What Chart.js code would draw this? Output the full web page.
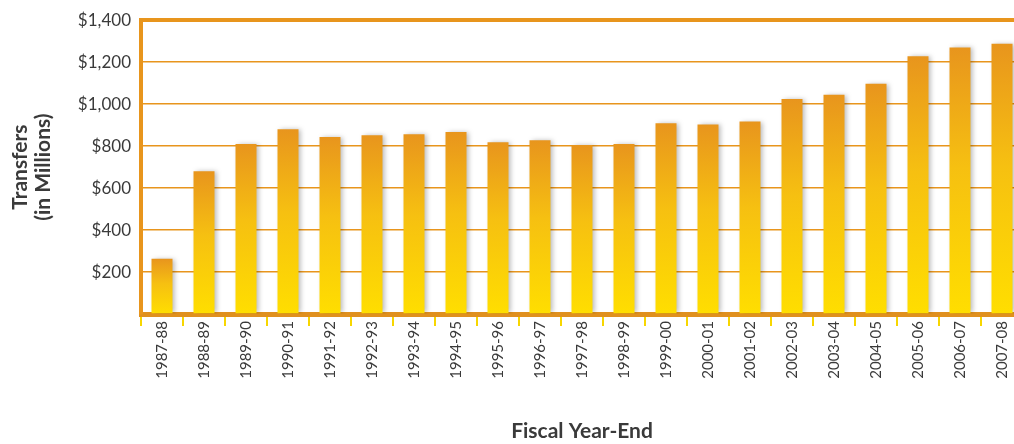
<!DOCTYPE html>
<html>
<head>
<meta charset="utf-8">
<script src="https://cdn.jsdelivr.net/npm/chart.js@4"></script>
<style>
  html, body { margin: 0; padding: 0; background: #fff; overflow: hidden; }
</style>
</head>
<body>
<canvas id="myChart" width="1030" height="444"></canvas>
<script>
const years = ["1987-88", "1988-89", "1989-90", "1990-91", "1991-92", "1992-93", "1993-94",
  "1994-95", "1995-96", "1996-97", "1997-98", "1998-99", "1999-00", "2000-01", "2001-02",
  "2002-03", "2003-04", "2004-05", "2005-06", "2006-07", "2007-08"];
const transfers = [263, 680, 810, 880, 844, 852, 856, 867, 819, 828, 805, 810, 909, 903, 917,
  1025, 1045, 1097, 1228, 1270, 1288];
const yTicks = [200, 400, 600, 800, 1000, 1200, 1400];

const orange = "#E8951D";
const yellow = "#FFDE00";
const textColor = "#3a3a3a";

// each bar fades from orange at its top to yellow at the base
function barGradient(context) {
  const chart = context.chart;
  if (!chart.chartArea) return orange;
  const y = chart.scales.y;
  const top = y.getPixelForValue(context.raw);
  const base = y.getPixelForValue(0);
  const g = chart.ctx.createLinearGradient(0, top, 0, base);
  g.addColorStop(0, orange);
  g.addColorStop(0.45, "#F6C011");
  g.addColorStop(1, yellow);
  return g;
}

const barShadow = {
  id: "barShadow",
  beforeDatasetsDraw(chart) {
    const c = chart.ctx;
    c.save();
    c.shadowColor = "rgba(0,0,0,0.28)";
    c.shadowBlur = 5;
    c.shadowOffsetX = 2;
    c.shadowOffsetY = 0;
  },
  afterDatasetsDraw(chart) {
    chart.ctx.restore();
  }
};

const ctx = document.getElementById("myChart");

new Chart(ctx, {
  type: "bar",
  data: {
    labels: years,
    datasets: [
      {
        label: "Transfers",
        data: transfers,
        backgroundColor: barGradient,
        barPercentage: 0.5,
        categoryPercentage: 1.0,
      },
    ],
  },
  options: {
    responsive: false,
    animation: false,
    devicePixelRatio: 1,
    layout: { padding: { top: 9, right: 7, left: 0, bottom: 0 } },
    plugins: {
      legend: { display: false },
      tooltip: { enabled: false },
    },
    scales: {
      x: {
        z: 1,
        border: { display: true, color: "#E0901E", width: 5 },
        grid: {
          drawOnChartArea: false,
          drawTicks: true,
          tickLength: 12,
          color: "#F7D600",
          lineWidth: 2,
        },
        ticks: {
          color: textColor,
          font: { family: "Lato", size: 15 },
          minRotation: 90,
          maxRotation: 90,
          padding: -5,
          autoSkip: false,
        },
        title: {
          display: true,
          text: "Fiscal Year-End",
          color: textColor,
          font: { family: "Lato", size: 21, weight: "bold" },
          padding: { top: 0, bottom: 0 },
        },
        afterFit(scale) {
          scale.height = 130;
        },
      },
      y: {
        min: 0,
        max: 1400,
        afterBuildTicks(scale) {
          scale.ticks = [0].concat(yTicks).map(v => ({ value: v }));
        },
        border: { display: true, color: orange, width: 4 },
        grid: {
          drawTicks: false,
          color: (c) => (c.tick.value === 0 ? "rgba(0,0,0,0)" : orange),
          lineWidth: (c) => (c.tick.value === 1400 ? 4 : 1.5),
        },
        ticks: {
          color: textColor,
          font: { family: "Lato", size: 17 },
          padding: 10,
          callback: (v) => (v === 0 ? "" : "$" + v.toLocaleString("en-US")),
        },
        title: {
          display: true,
          text: ["Transfers", "(in Millions)"],
          color: textColor,
          font: { family: "Lato", size: 21, weight: "bold", lineHeight: 1.1 },
          padding: { top: 9, bottom: 0 },
        },
        afterFit(scale) {
          scale.width = 141;
        },
      },
    },
  },
  plugins: [barShadow],
});
</script>
</body>
</html>
